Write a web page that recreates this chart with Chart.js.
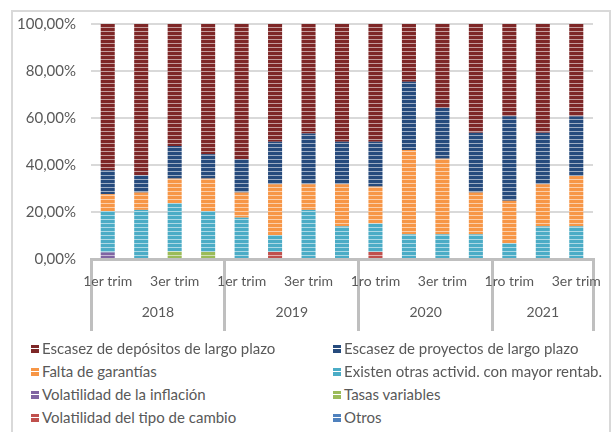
<!DOCTYPE html>
<html>
<head>
<meta charset="utf-8">
<script src="https://cdn.jsdelivr.net/npm/chart.js@4.4.1/dist/chart.umd.min.js"></script>
<style>
  body { margin: 0; background: #fff; width: 616px; height: 432px; overflow: hidden; position: relative; font-family: Lato, "Open Sans", sans-serif; }
  #frame { position: absolute; left: 11px; top: 10px; width: 600px; height: 440px; border: 2px solid #D9D9D9; box-sizing: border-box; }
  #chart { position: absolute; left: 0; top: 0; }
  #legend { position: absolute; left: 0; top: 336px; width: 616px; }
  .item { position: absolute; font-size: 15px; color: #595959; white-space: nowrap; line-height: 16px; }
  .box { display: inline-block; width: 8px; height: 8px; margin-right: 3px; vertical-align: 1px; }
</style>
</head>
<body>
<div id="frame"></div>
<canvas id="chart" width="616" height="340"></canvas>
<div id="legend"></div>
<script>
// categorias
var quarters = ['1er trim','2do trim','3er trim','4to trim',
                '1er trim','2do trim','3er trim','4to trim',
                '1ro trim','2do trim','3er trim','4to trim',
                '1ro trim','2do trim','3er trim'];
var years = ['2018','2019','2020','2021'];
var yearSizes = [4, 4, 4, 3];
var yTicks = [0, 20, 40, 60, 80, 100];

// series (% de respuestas), de abajo hacia arriba
var inflacion  = [2.8, 0, 0, 0, 0, 0, 0, 0, 0, 0, 0, 0, 0, 0, 0];
var tasas      = [0, 0, 3.2, 3.0, 0, 0, 0, 0, 0, 0, 0, 0, 0, 0, 0];
var tipoCambio = [0, 0, 0, 0, 0, 3.0, 0, 0, 3.0, 0, 0, 0, 0, 0, 0];
var otros      = [0, 0, 0, 0, 0, 0, 0, 0, 0, 0, 0, 0, 0, 0, 0];
var otrasActiv = [17.6, 20.9, 20.6, 17.4, 17.6, 7.2, 20.9, 13.9, 12.1, 10.5, 10.5, 10.5, 6.7, 13.9, 13.9];
var garantias  = [7.2, 7.4, 10.4, 13.8, 10.7, 21.6, 10.9, 17.9, 15.7, 35.9, 32.2, 17.8, 18.1, 17.9, 21.4];
var proyectos  = [10.2, 7.3, 13.9, 10.4, 14.2, 18.1, 21.6, 18.1, 19.1, 29.0, 21.6, 25.4, 35.9, 21.9, 25.4];
var depositos  = [62.2, 64.4, 51.9, 55.4, 57.5, 50.1, 46.6, 50.1, 50.1, 24.6, 35.7, 46.3, 39.3, 46.3, 39.3];

var ctx = document.getElementById('chart').getContext('2d');

function stripes(color) {
  var c = document.createElement('canvas');
  c.width = 4; c.height = 4;
  var g = c.getContext('2d');
  g.fillStyle = color;
  g.fillRect(0, 0, 4, 4);
  g.fillStyle = 'rgba(255,255,255,0.55)';
  g.fillRect(0, 3, 4, 1);
  return ctx.createPattern(c, 'repeat');
}

var series = [
  { label: 'Volatilidad de la inflación', data: inflacion, color: '#8064A2' },
  { label: 'Tasas variables', data: tasas, color: '#9BBB59' },
  { label: 'Volatilidad del tipo de cambio', data: tipoCambio, color: '#C0504D' },
  { label: 'Otros', data: otros, color: '#4F81BD' },
  { label: 'Existen otras activid. con mayor rentab.', data: otrasActiv, color: '#4BACC6' },
  { label: 'Falta de garantías', data: garantias, color: '#F79646' },
  { label: 'Escasez de proyectos de largo plazo', data: proyectos, color: '#264B7D' },
  { label: 'Escasez de depósitos de largo plazo', data: depositos, color: '#7E2727' }
];

// orden de la leyenda (filas de 2)
var legendOrder = [7, 6, 5, 4, 0, 1, 2, 3];

var yearLabels = {
  id: 'yearLabels',
  afterDraw: function(chart) {
    var x = chart.scales.x;
    var c = chart.ctx;
    c.save();
    c.font = '14px Lato';
    c.fillStyle = '#595959';
    c.textAlign = 'center';
    c.textBaseline = 'middle';
    var start = 0;
    years.forEach(function(y, i) {
      var mid = start + (yearSizes[i] - 1) / 2;
      c.fillText(y, x.getPixelForValue(mid), 312);
      start += yearSizes[i];
    });
    c.restore();
  }
};

var chart = new Chart(ctx, {
  type: 'bar',
  data: {
    labels: quarters,
    datasets: series.map(function(s) {
      return {
        label: s.label,
        data: s.data,
        backgroundColor: stripes(s.color),
        borderWidth: 0,
        categoryPercentage: 1,
        barPercentage: 0.42
      };
    })
  },
  options: {
    responsive: false,
    animation: false,
    layout: { padding: { top: 20, right: 23, left: 0, bottom: 0 } },
    plugins: { legend: { display: false }, tooltip: { enabled: false } },
    scales: {
      x: {
        stacked: true,
        afterFit: function(s) { s.height = 81; },
        border: { display: true, color: '#BFBFBF', width: 3 },
        grid: {
          drawOnChartArea: false,
          drawTicks: true,
          tickLength: 72,
          lineWidth: 3,
          color: function(c) {
            if (c.type !== 'tick') return '#BFBFBF';
            var b = 0;
            for (var i = 0; i < yearSizes.length; i++) {
              if (c.index === b) return '#BFBFBF';
              b += yearSizes[i];
            }
            return 'rgba(0,0,0,0)';
          }
        },
        ticks: {
          autoSkip: false,
          maxRotation: 0,
          padding: -58,
          color: '#595959',
          font: { family: 'Lato', size: 14 },
          callback: function(v, i) { return i % 2 === 0 ? quarters[i] : ''; }
        }
      },
      y: {
        stacked: true,
        min: 0,
        max: 100,
        afterFit: function(s) { s.width = 91; },
        afterBuildTicks: function(s) { s.ticks = yTicks.map(function(v) { return { value: v }; }); },
        border: { display: false },
        grid: { color: '#D9D9D9', lineWidth: 2, drawTicks: false },
        ticks: {
          padding: 15,
          color: '#595959',
          font: { family: 'Lato', size: 15 },
          callback: function(v) { return v.toFixed(2).replace('.', ',') + '%'; }
        }
      }
    }
  },
  plugins: [yearLabels]
});

// leyenda en dos columnas
var legend = document.getElementById('legend');
legendOrder.forEach(function(k, n) {
  var s = series[k];
  var d = document.createElement('div');
  d.className = 'item';
  d.style.left = (n % 2 === 0 ? 31 : 333) + 'px';
  d.style.top = (4 + Math.floor(n / 2) * 23) + 'px';
  d.innerHTML = '<span class="box" style="background:linear-gradient(' + s.color + ' 0 3px, rgba(255,255,255,0.5) 3px 4px, ' + s.color + ' 4px 8px)"></span>' + s.label;
  legend.appendChild(d);
});
</script>
</body>
</html>
